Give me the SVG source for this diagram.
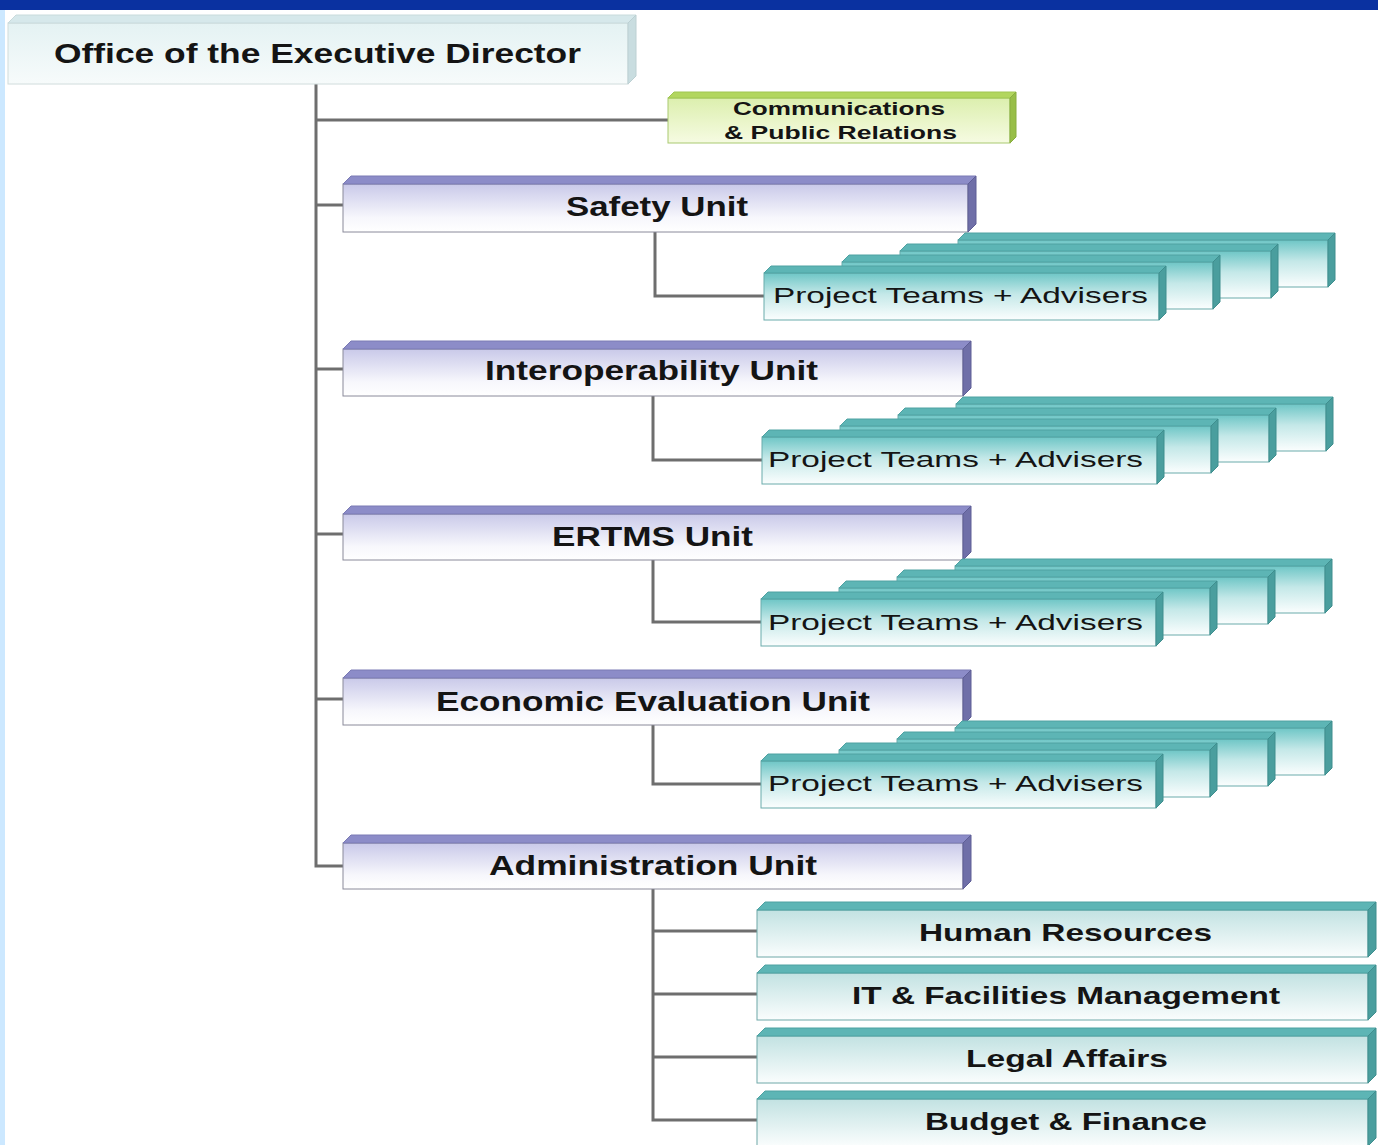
<svg xmlns="http://www.w3.org/2000/svg" xmlns:xlink="http://www.w3.org/1999/xlink" width="1378" height="1145" viewBox="0 0 1378 1145">
<style>
.lbl{font-family:"Liberation Sans",Arial,sans-serif;font-weight:bold;fill:#141414}
.big{font-size:27px}
.med{font-size:24px}
.sm{font-size:18px}
.pt{font-family:"Liberation Sans",Arial,sans-serif;font-size:22px;fill:#141414}
.conn{fill:none;stroke:#6e6e6e;stroke-width:3}
.uf{fill:url(#gUnit);stroke:#8a8a9a;stroke-width:1}
.ut{fill:#8c8cc8;stroke:#7a7ab4;stroke-width:1}
.us{fill:#6f6fa8;stroke:#5e5e96;stroke-width:1}
.tf{fill:url(#gTeal);stroke:#6aabab;stroke-width:1}
.tt{fill:#5db5b5;stroke:#4fa2a2;stroke-width:1}
.ts{fill:#4a9e9e;stroke:#3f8e8e;stroke-width:1}
.af{fill:url(#gAdm);stroke:#6fa8a8;stroke-width:1}
</style>
<defs>
<linearGradient id="gUnit" x1="0" y1="0" x2="0" y2="1">
<stop offset="0" stop-color="#c9c9e9"/><stop offset="0.7" stop-color="#f7f7fc"/><stop offset="1" stop-color="#ffffff"/>
</linearGradient>
<linearGradient id="gTeal" x1="0" y1="0" x2="0" y2="1">
<stop offset="0" stop-color="#6ec6c6"/><stop offset="0.45" stop-color="#c4e8e8"/><stop offset="1" stop-color="#fbfefe"/>
</linearGradient>
<linearGradient id="gAdm" x1="0" y1="0" x2="0" y2="1">
<stop offset="0" stop-color="#c2e2e2"/><stop offset="1" stop-color="#fafdfd"/>
</linearGradient>
<linearGradient id="gOff" x1="0" y1="0" x2="0" y2="1">
<stop offset="0" stop-color="#e4f2f3"/><stop offset="1" stop-color="#f7fbfb"/>
</linearGradient>
<linearGradient id="gCom" x1="0" y1="0" x2="0" y2="1">
<stop offset="0" stop-color="#dcefae"/><stop offset="1" stop-color="#f6fbe2"/>
</linearGradient>
<g id="stack">
<rect class="tf" x="958" y="240" width="370" height="47"/>
<polygon class="tt" points="958,240 965,233 1335,233 1328,240"/>
<polygon class="ts" points="1328,240 1335,233 1335,280 1328,287"/>
<rect class="tf" x="900" y="251" width="371" height="47"/>
<polygon class="tt" points="900,251 907,244 1278,244 1271,251"/>
<polygon class="ts" points="1271,251 1278,244 1278,291 1271,298"/>
<rect class="tf" x="842" y="262" width="371" height="47"/>
<polygon class="tt" points="842,262 849,255 1220,255 1213,262"/>
<polygon class="ts" points="1213,262 1220,255 1220,302 1213,309"/>
<rect class="tf" x="764" y="273" width="395" height="47"/>
<polygon class="tt" points="764,273 771,266 1166,266 1159,273"/>
<polygon class="ts" points="1159,273 1166,266 1166,313 1159,320"/>
</g>
<g id="adm">
<rect class="af" x="757" y="910" width="611" height="47"/>
<polygon class="tt" points="757,910 765,902 1376,902 1368,910"/>
<polygon class="ts" points="1368,910 1376,902 1376,949 1368,957"/>
</g>
</defs>

<rect x="0" y="0" width="1378" height="1145" fill="#ffffff"/>
<rect x="0" y="0" width="1378" height="10" fill="#0a31a0"/>
<rect x="0" y="10" width="5" height="1135" fill="#cce8ff"/>

<g id="connectors">
<path class="conn" d="M316,84 V866 H343"/>
<path class="conn" d="M316,120 H668"/>
<path class="conn" d="M316,205 H343"/>
<path class="conn" d="M316,369 H343"/>
<path class="conn" d="M316,534 H343"/>
<path class="conn" d="M316,699 H343"/>
<path class="conn" d="M655,232 V296 H764"/>
<path class="conn" d="M653,396 V460 H762"/>
<path class="conn" d="M653,560 V622 H761"/>
<path class="conn" d="M653,725 V784 H761"/>
<path class="conn" d="M653,889 V1120 H757"/>
<path class="conn" d="M653,931 H757"/>
<path class="conn" d="M653,994 H757"/>
<path class="conn" d="M653,1057 H757"/>
</g>

<g id="office">
<rect x="8" y="23" width="620" height="61" fill="url(#gOff)" stroke="#d0dcdc" stroke-width="1"/>
<polygon points="8,23 16,15 636,15 628,23" fill="#d6e8eb" stroke="#c8dadc" stroke-width="1"/>
<polygon points="628,23 636,15 636,76 628,84" fill="#c9dde0" stroke="#bcd0d3" stroke-width="1"/>
<text class="lbl big" x="54" y="63" textLength="527" lengthAdjust="spacingAndGlyphs">Office of the Executive Director</text>
</g>

<g id="comms">
<rect x="668" y="98" width="342" height="45" fill="url(#gCom)" stroke="#a9c970" stroke-width="1"/>
<polygon points="668,98 674,92 1016,92 1010,98" fill="#b2d65e" stroke="#a0c652" stroke-width="1"/>
<polygon points="1010,98 1016,92 1016,137 1010,143" fill="#98be48" stroke="#88ae3e" stroke-width="1"/>
<text class="lbl sm" x="733" y="115" textLength="212" lengthAdjust="spacingAndGlyphs">Communications</text>
<text class="lbl sm" x="724" y="139" textLength="233" lengthAdjust="spacingAndGlyphs">&amp; Public Relations</text>
</g>

<g id="safety">
<rect class="uf" x="343" y="184" width="625" height="48"/>
<polygon class="ut" points="343,184 351,176 976,176 968,184"/>
<polygon class="us" points="968,184 976,176 976,224 968,232"/>
<text class="lbl big" x="566" y="216" textLength="182" lengthAdjust="spacingAndGlyphs">Safety Unit</text>
</g>
<g id="safety-teams">
<use xlink:href="#stack" href="#stack"/>
<text class="pt" x="773" y="303" textLength="375" lengthAdjust="spacingAndGlyphs">Project Teams + Advisers</text>
</g>

<g id="interop">
<rect class="uf" x="343" y="349" width="620" height="47"/>
<polygon class="ut" points="343,349 351,341 971,341 963,349"/>
<polygon class="us" points="963,349 971,341 971,388 963,396"/>
<text class="lbl big" x="485" y="380" textLength="333" lengthAdjust="spacingAndGlyphs">Interoperability Unit</text>
</g>
<g id="interop-teams">
<use xlink:href="#stack" href="#stack" transform="translate(-2,164)"/>
<text class="pt" x="768" y="467" textLength="375" lengthAdjust="spacingAndGlyphs">Project Teams + Advisers</text>
</g>

<g id="ertms">
<rect class="uf" x="343" y="514" width="620" height="46"/>
<polygon class="ut" points="343,514 351,506 971,506 963,514"/>
<polygon class="us" points="963,514 971,506 971,552 963,560"/>
<text class="lbl big" x="552" y="546" textLength="201" lengthAdjust="spacingAndGlyphs">ERTMS Unit</text>
</g>
<g id="ertms-teams">
<use xlink:href="#stack" href="#stack" transform="translate(-3,326)"/>
<text class="pt" x="768" y="630" textLength="375" lengthAdjust="spacingAndGlyphs">Project Teams + Advisers</text>
</g>

<g id="econ">
<rect class="uf" x="343" y="678" width="620" height="47"/>
<polygon class="ut" points="343,678 351,670 971,670 963,678"/>
<polygon class="us" points="963,678 971,670 971,717 963,725"/>
<text class="lbl big" x="436" y="711" textLength="434" lengthAdjust="spacingAndGlyphs">Economic Evaluation Unit</text>
</g>
<g id="econ-teams">
<use xlink:href="#stack" href="#stack" transform="translate(-3,488)"/>
<text class="pt" x="768" y="791" textLength="375" lengthAdjust="spacingAndGlyphs">Project Teams + Advisers</text>
</g>

<g id="admin">
<rect class="uf" x="343" y="843" width="620" height="46"/>
<polygon class="ut" points="343,843 351,835 971,835 963,843"/>
<polygon class="us" points="963,843 971,835 971,881 963,889"/>
<text class="lbl big" x="489" y="875" textLength="328" lengthAdjust="spacingAndGlyphs">Administration Unit</text>
</g>

<g id="hr">
<use xlink:href="#adm" href="#adm"/>
<text class="lbl med" x="919" y="941" textLength="293" lengthAdjust="spacingAndGlyphs">Human Resources</text>
</g>
<g id="it">
<use xlink:href="#adm" href="#adm" transform="translate(0,63)"/>
<text class="lbl med" x="852" y="1004" textLength="428" lengthAdjust="spacingAndGlyphs">IT &amp; Facilities Management</text>
</g>
<g id="legal">
<use xlink:href="#adm" href="#adm" transform="translate(0,126)"/>
<text class="lbl med" x="966" y="1067" textLength="202" lengthAdjust="spacingAndGlyphs">Legal Affairs</text>
</g>
<g id="budget">
<use xlink:href="#adm" href="#adm" transform="translate(0,189)"/>
<text class="lbl med" x="925" y="1130" textLength="282" lengthAdjust="spacingAndGlyphs">Budget &amp; Finance</text>
</g>
</svg>
